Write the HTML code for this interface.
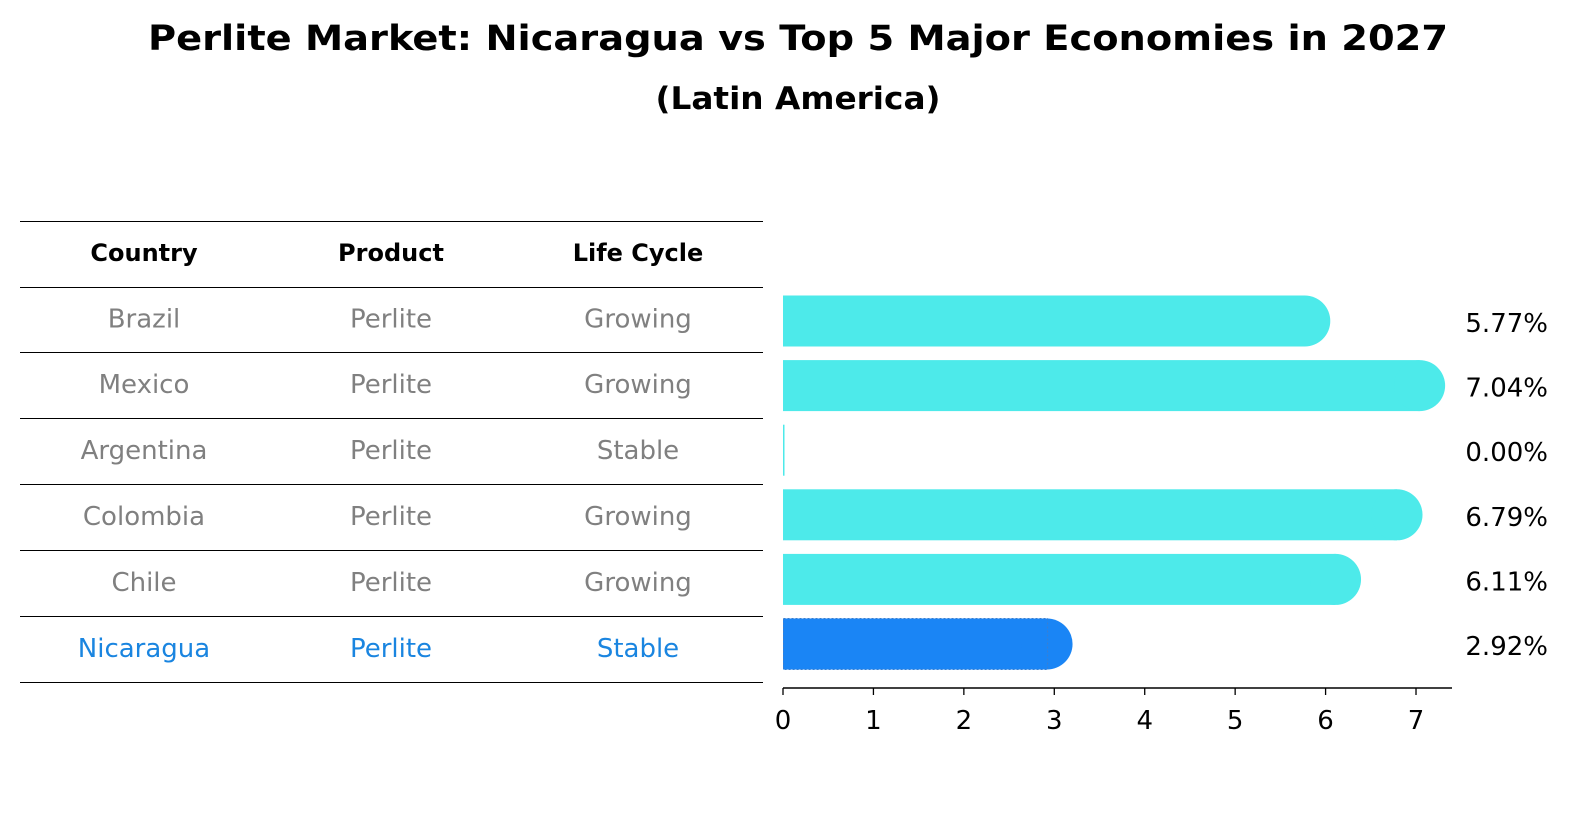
<!DOCTYPE html>
<html><head><meta charset="utf-8"><style>
body{margin:0;background:#fff;font-family:"Liberation Sans","DejaVu Sans",sans-serif}
</style></head><body>
<svg id="c" width="1586" height="823" font-family="DejaVu Sans, Liberation Sans, sans-serif">
<text x="798" y="50" text-anchor="middle" font-size="35" font-weight="bold" textLength="1300" lengthAdjust="spacingAndGlyphs">Perlite Market: Nicaragua vs Top 5 Major Economies in 2027</text>
<text x="798" y="109" text-anchor="middle" font-size="31" font-weight="bold" textLength="285" lengthAdjust="spacingAndGlyphs">(Latin America)</text>
<g id="tbl"></g>
<g id="bars"></g>
</svg>
<script>
const countries=["Brazil","Mexico","Argentina","Colombia","Chile","Nicaragua"];
const products=["Perlite","Perlite","Perlite","Perlite","Perlite","Perlite"];
const lifecycle=["Growing","Growing","Stable","Growing","Growing","Stable"];
const values=[5.77,7.04,0.00,6.79,6.11,2.92];
const ticks=[0,1,2,3,4,5,6,7];
const NS="http://www.w3.org/2000/svg";
function mk(t,a,p){const e=document.createElementNS(NS,t);for(const k in a)e.setAttribute(k,a[k]);p.appendChild(e);return e;}
const tbl=document.getElementById('tbl'),bars=document.getElementById('bars');
const rowY=i=>321+i*64.6;
const x=v=>783+v*90.43;
const lineYs=[221,287,352,418,484,550,616,682];
lineYs.forEach(y=>{const l=mk('line',{x1:20,x2:763,y1:y+0.5,y2:y+0.5,stroke:'#000','stroke-width':1,'shape-rendering':'crispEdges'},tbl);

});
const cols=[144,391,638],hdr=["Country","Product","Life Cycle"];
hdr.forEach((h,j)=>{const t=mk('text',{x:cols[j],y:261,'text-anchor':'middle','font-size':24,'font-weight':'bold'},tbl);t.textContent=h;

});
countries.forEach((c,i)=>{
 const col=i==5?'#1a85e0':'#808080';
 const cy=(lineYs[i+1]+lineYs[i+2])/2;
 [c,products[i],lifecycle[i]].forEach((v,j)=>{const t=mk('text',{x:cols[j],y:cy+8,'text-anchor':'middle','font-size':26,fill:col},tbl);t.textContent=v;
 
 });
 const y=rowY(i),h=51,r=25.5,fill=i==5?'#1a85f5':'#4deaea';
 const g=mk('g',{},bars);
 
 
 if(values[i]>0){
  mk('rect',{x:783,y:y-h/2,width:x(values[i])-783,height:h,fill:fill},g);
  mk('circle',{cx:x(values[i]),cy:y,r:r,fill:fill},g);
  if(i==5)mk('rect',{x:783.5,y:y-h/2,width:x(values[i])-783,height:h,fill:'none',stroke:'#3a7fd0','stroke-dasharray':'2,2','stroke-width':1},g);
 } else mk('rect',{x:783,y:y-h/2,width:1.5,height:h,fill:fill},g);
 const t=mk('text',{x:1548,y:y+11,'text-anchor':'end','font-size':26},bars);t.textContent=values[i].toFixed(2)+'%';
 
 
});
const ax=mk('line',{x1:783,x2:1452,y1:688,y2:688,stroke:'#000','stroke-width':1.5},bars);


ticks.forEach(v=>{mk('line',{x1:x(v),x2:x(v),y1:688,y2:695,stroke:'#000','stroke-width':1.3},bars);
 const t=mk('text',{x:x(v),y:729,'text-anchor':'middle','font-size':26},bars);t.textContent=v;
 
 });
</script>
</body></html>
